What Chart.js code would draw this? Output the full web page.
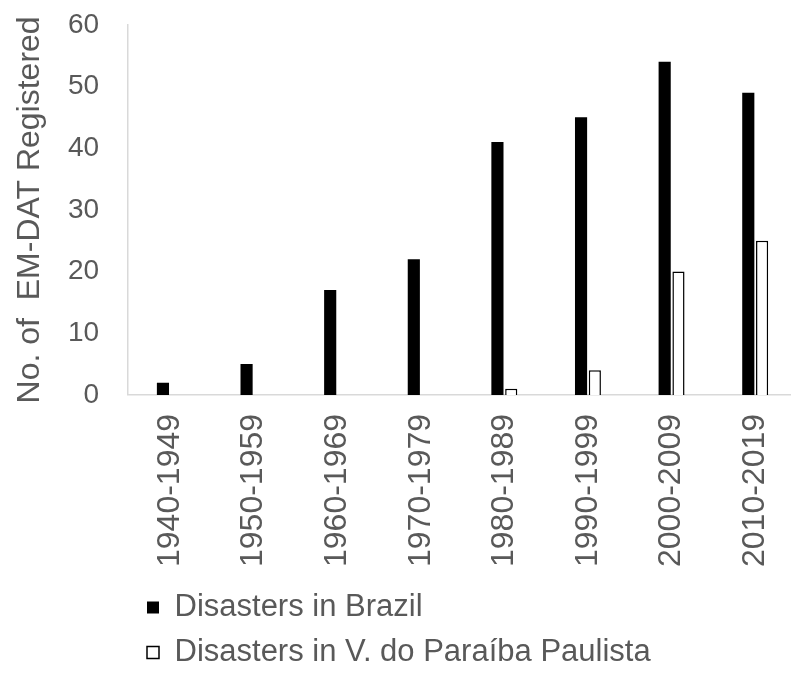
<!DOCTYPE html>
<html>
<head>
<meta charset="utf-8">
<script src="https://cdn.jsdelivr.net/npm/chart.js@4/dist/chart.umd.min.js"></script>
<style>
  html, body { margin: 0; padding: 0; background: #ffffff; overflow: hidden; }
  #wrap { width: 791px; height: 673px; overflow: hidden; }
  #chart { display: block; }
</style>
</head>
<body>
<div id="wrap"><canvas id="chart" width="797" height="673"></canvas></div>
<script>
// Decades on the horizontal axis
const decades = ['1940-1949', '1950-1959', '1960-1969', '1970-1979',
                 '1980-1989', '1990-1999', '2000-2009', '2010-2019'];
// Disasters registered in EM-DAT per decade
const brazil  = [2, 5, 17, 22, 41, 45, 54, 49];
const paraiba = [0, 0, 0, 0, 1, 4, 20, 25];
// Value axis
const yTicks = [0, 10, 20, 30, 40, 50, 60];

const TEXT = '#595959';
const AXIS = '#d9d9d9';
const FAMILY = '"Liberation Sans", Arial, sans-serif';

// Places the legend block under the plot, rows left-aligned
const legendShift = {
  id: 'legendShift',
  afterLayout(chart) {
    const lg = chart.legend;
    if (!lg) return;
    const dx = 133 - lg.left;
    lg.left += dx; lg.right += dx;
    const dy = 11;
    lg.top += dy; lg.bottom += dy;
  }
};

new Chart(document.getElementById('chart'), {
  type: 'bar',
  data: {
    labels: decades,
    datasets: [
      {
        label: 'Disasters in Brazil',
        data: brazil,
        backgroundColor: '#000000',
        borderColor: '#000000',
        borderWidth: 0,
        categoryPercentage: 0.33,
        barPercentage: 0.88
      },
      {
        label: 'Disasters in V. do Paraíba Paulista',
        data: paraiba,
        backgroundColor: '#ffffff',
        borderColor: '#000000',
        borderWidth: 1.5,
        categoryPercentage: 0.33,
        barPercentage: 0.88
      }
    ]
  },
  options: {
    responsive: false,
    animation: false,
    devicePixelRatio: 1,
    layout: { padding: { left: 0, right: 0, top: 0, bottom: 6 } },
    plugins: {
      legend: {
        position: 'bottom',
        align: 'start',
        labels: {
          color: TEXT,
          font: { family: FAMILY, size: 31 },
          boxWidth: 12,
          boxHeight: 12,
          padding: 14
        }
      },
      tooltip: { enabled: false },
      title: { display: false }
    },
    scales: {
      x: {
        grid: { display: false, drawTicks: true, tickLength: 19 },
        border: { display: true, color: AXIS, width: 1.5 },
        ticks: {
          color: TEXT,
          font: { family: FAMILY, size: 32 },
          minRotation: 90,
          maxRotation: 90,
          padding: 0,
          autoSkip: false
        }
      },
      y: {
        min: 0,
        max: 60,
        afterBuildTicks(axis) { axis.ticks = yTicks.map(v => ({ value: v })); },
        grid: { display: false, drawTicks: true, tickLength: 21 },
        border: { display: true, color: AXIS, width: 1.5 },
        ticks: {
          color: TEXT,
          font: { family: FAMILY, size: 28 },
          padding: 8
        },
        title: {
          display: true,
          text: 'No. of  EM-DAT Registered',
          color: TEXT,
          font: { family: FAMILY, size: 32 },
          padding: { top: 11, bottom: 10.5 }
        }
      }
    }
  },
  plugins: [legendShift]
});
</script>
</body>
</html>
